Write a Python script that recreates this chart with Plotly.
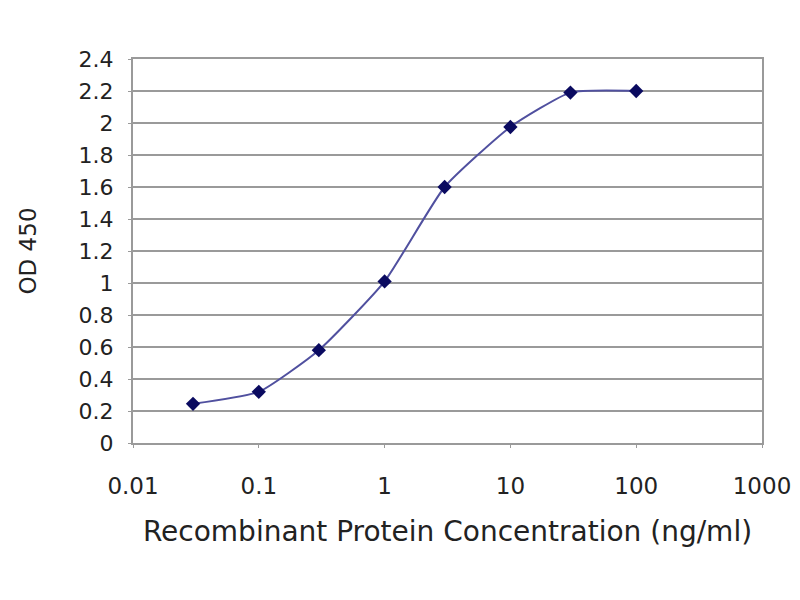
import plotly.graph_objects as go

# concentration (ng/ml) and OD 450 readings
conc = [0.03, 0.1, 0.3, 1, 3, 10, 30, 100]
od450 = [0.245, 0.32, 0.58, 1.01, 1.6, 1.975, 2.19, 2.2]

x_ticks = [0.01, 0.1, 1, 10, 100, 1000]
x_tick_text = ['0.01', '0.1', '1', '10', '100', '1000']
y_ticks = [0, 0.2, 0.4, 0.6, 0.8, 1, 1.2, 1.4, 1.6, 1.8, 2, 2.2, 2.4]
y_tick_text = ['0', '0.2', '0.4', '0.6', '0.8', '1', '1.2', '1.4', '1.6', '1.8', '2', '2.2', '2.4']

font_name = 'DejaVu Sans'
grey = '#9a9a9a'
txt = '#222222'

fig = go.Figure()
fig.add_trace(go.Scatter(
    x=conc, y=od450, mode='lines+markers',
    line=dict(color='#50509f', width=2, shape='spline', smoothing=0.5),
    marker=dict(symbol='diamond', size=11, color='#0a0a60'),
    showlegend=False,
))

fig.update_xaxes(
    type='log', range=[-2, 3],
    tickvals=x_ticks, ticktext=x_tick_text,
    showgrid=False, showline=True, linecolor=grey, linewidth=2, mirror=True,
    ticks='outside', ticklen=3, tickcolor=grey, ticklabelstandoff=18,
    tickfont=dict(family=font_name, size=23, color=txt),
    title=dict(text='Recombinant Protein Concentration (ng/ml)',
               font=dict(family=font_name, size=28, color=txt), standoff=24),
)
fig.update_yaxes(
    range=[0, 2.4], tickvals=y_ticks, ticktext=y_tick_text,
    showgrid=True, gridcolor=grey, gridwidth=2,
    showline=True, linecolor=grey, linewidth=2, mirror=True,
    ticks='outside', ticklen=3, tickcolor=grey, ticklabelstandoff=10,
    tickfont=dict(family=font_name, size=22, color=txt),
    title=dict(text='OD 450', font=dict(family=font_name, size=23, color=txt), standoff=36),
)

fig.update_layout(
    width=800, height=600,
    margin=dict(l=125, r=46, t=51, b=165),
    paper_bgcolor='white', plot_bgcolor='white',
)

fig.write_html("out.html")
